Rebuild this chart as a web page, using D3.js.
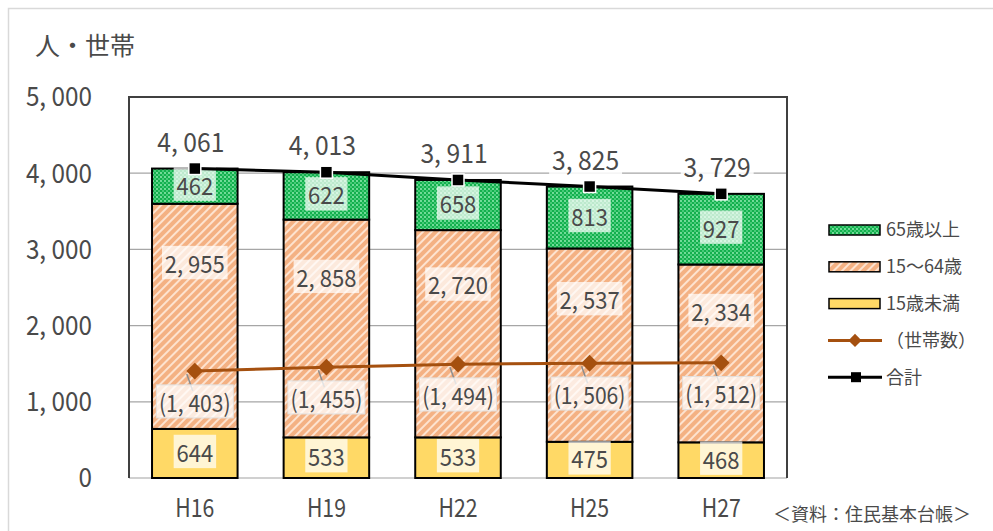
<!DOCTYPE html>
<html>
<head>
<meta charset="utf-8">
<script src="https://cdn.jsdelivr.net/npm/d3@7"></script>
<style>
body { margin: 0; background: #fff; }
text { font-family: "Noto Sans CJK JP", "Noto Sans", sans-serif; fill: #4a4a4a; }
</style>
</head>
<body>
<div id="chart"></div>
<script>
// data
var years = ['H16', 'H19', 'H22', 'H25', 'H27'];
var under15 = [644, 533, 533, 475, 468];
var age15to64 = [2955, 2858, 2720, 2537, 2334];
var over65 = [462, 622, 658, 813, 927];
var households = [1403, 1455, 1494, 1506, 1512];
var totals = [4061, 4013, 3911, 3825, 3729];
var yTicks = [0, 1000, 2000, 3000, 4000, 5000];
var seriesNames = ['15歳未満', '15～64歳', '65歳以上'];

var W = 993, H = 531;

var svg = d3.select('#chart').append('svg')
    .attr('width', W)
    .attr('height', H);

var defs = svg.append('defs');

// green dotted pattern
var pg = defs.append('pattern').attr('id', 'pGreen')
    .attr('width', 4).attr('height', 4)
    .attr('patternUnits', 'userSpaceOnUse');
pg.append('rect').attr('width', 4).attr('height', 4).attr('fill', '#13b04e');
pg.append('circle').attr('cx', 1).attr('cy', 1).attr('r', 0.9).attr('fill', '#9ef0bb');
pg.append('circle').attr('cx', 3).attr('cy', 3).attr('r', 0.9).attr('fill', '#5fd88c');

// orange striped pattern
var po = defs.append('pattern').attr('id', 'pOrange')
    .attr('width', 6).attr('height', 6)
    .attr('patternUnits', 'userSpaceOnUse')
    .attr('patternTransform', 'rotate(45)');
po.append('rect').attr('width', 6).attr('height', 6).attr('fill', '#f4b183');
po.append('rect').attr('width', 2).attr('height', 6).attr('fill', '#fde3d0');

var fills = ['#ffd966', 'url(#pOrange)', 'url(#pGreen)'];

// outer frame
svg.append('rect')
    .attr('x', 8.5).attr('y', 8.5)
    .attr('width', W).attr('height', H)
    .attr('fill', 'none')
    .attr('stroke', '#d9d9d9')
    .attr('stroke-width', 1.5);

var plot = { left: 129, right: 787, top: 97, bottom: 478 };

var y = d3.scaleLinear()
    .domain([0, 5000])
    .range([plot.bottom, plot.top]);

var x = d3.scaleBand()
    .domain(years)
    .range([plot.left, plot.right])
    .paddingInner(0.35)
    .paddingOuter(0.175);

var fmt = function (v) {
    return d3.format(',')(v).replace(/,/g, ', ');
};

// text helper, sx squeezes horizontally like the original narrow font
function label(parent, px, py, s, size, anchor, sx, bg) {
    var g = parent.append('g')
        .attr('transform', 'translate(' + px + ',' + py + ') scale(' + sx + ',1)');
    var t = g.append('text')
        .attr('text-anchor', anchor || 'middle')
        .attr('dy', '0.35em')
        .style('font-size', size + 'px')
        .text(s);
    if (bg) {
        var b = t.node().getBBox();
        g.insert('rect', 'text')
            .attr('x', b.x - 3).attr('y', b.y + 1)
            .attr('width', b.width + 6).attr('height', b.height - 2)
            .attr('fill', '#fff')
            .attr('fill-opacity', bg);
    }
    return g;
}

// gridlines
svg.append('g')
    .selectAll('line')
    .data(yTicks.slice(1, -1))
    .enter().append('line')
    .attr('x1', plot.left).attr('x2', plot.right)
    .attr('y1', function (d) { return y(d); })
    .attr('y2', function (d) { return y(d); })
    .attr('stroke', '#a6a6a6')
    .attr('stroke-width', 1.3);

// bottom axis line
svg.append('line')
    .attr('x1', plot.left).attr('x2', plot.right)
    .attr('y1', y(0)).attr('y2', y(0))
    .attr('stroke', '#d0d0d0')
    .attr('stroke-width', 2);

// plot frame (left, top, right)
svg.append('path')
    .attr('d', 'M' + plot.left + ',' + plot.bottom + 'V' + plot.top + 'H' + plot.right + 'V' + plot.bottom)
    .attr('fill', 'none')
    .attr('stroke', '#404040')
    .attr('stroke-width', 2);

// y tick labels
var yl = svg.append('g');
yTicks.forEach(function (d) {
    label(yl, 92, y(d), fmt(d), 27, 'end', 0.9);
});

// x labels
var xl = svg.append('g');
years.forEach(function (d) {
    label(xl, x(d) + x.bandwidth() / 2, 508, d, 25, 'middle', 0.85);
});

// stacked bars
var table = years.map(function (d, i) {
    return { year: d, a: under15[i], b: age15to64[i], c: over65[i] };
});
var stack = d3.stack().keys(['a', 'b', 'c'])(table);

var bars = svg.append('g');
stack.forEach(function (layer, li) {
    bars.selectAll('.s' + li)
        .data(layer)
        .enter().append('rect')
        .attr('x', function (d) { return x(d.data.year); })
        .attr('y', function (d) { return y(d[1]); })
        .attr('width', x.bandwidth())
        .attr('height', function (d) { return y(d[0]) - y(d[1]); })
        .attr('fill', fills[li])
        .attr('stroke', '#000')
        .attr('stroke-width', 2);
});

// segment labels
var sl = svg.append('g');
stack.forEach(function (layer, li) {
    layer.forEach(function (d) {
        var cx = x(d.data.year) + x.bandwidth() / 2;
        var top = y(d[1]), bot = y(d[0]);
        var cy = li === 1 ? top + (bot - top) * 0.27 : (top + bot) / 2;
        label(sl, cx, cy, fmt(d[1] - d[0]), 24, 'middle', 0.92, 0.72);
    });
});

// household line
var hl = svg.append('g');
var hLine = d3.line()
    .x(function (d, i) { return x(years[i]) + x.bandwidth() / 2; })
    .y(function (d) { return y(d); });
hl.append('path')
    .attr('d', hLine(households))
    .attr('fill', 'none')
    .attr('stroke', '#a5500f')
    .attr('stroke-width', 3);
households.forEach(function (d, i) {
    var cx = x(years[i]) + x.bandwidth() / 2;
    hl.append('path')
        .attr('d', d3.symbol().type(d3.symbolDiamond2).size(180)())
        .attr('transform', 'translate(' + cx + ',' + y(d) + ')')
        .attr('fill', '#a5500f');
});
households.forEach(function (d, i) {
    var cx = x(years[i]) + x.bandwidth() / 2;
    var ly = y(d) + 32;
    hl.append('line')
        .attr('x1', cx - 8).attr('y1', y(d) + 3)
        .attr('x2', cx - 2).attr('y2', ly - 12)
        .attr('stroke', '#8c8c8c').attr('stroke-width', 1.5);
    var g = label(hl, cx, ly, '(' + fmt(d) + ')', 24, 'middle', 0.88, 0.75);
    g.select('rect').attr('stroke', '#e0e0e0').attr('stroke-width', 1);
});

// total line
var tl = svg.append('g');
tl.append('path')
    .attr('d', hLine(totals))
    .attr('fill', 'none')
    .attr('stroke', '#000')
    .attr('stroke-width', 3);
totals.forEach(function (d, i) {
    var cx = x(years[i]) + x.bandwidth() / 2;
    tl.append('rect')
        .attr('x', cx - 6).attr('y', y(d) - 6)
        .attr('width', 12).attr('height', 12)
        .attr('fill', '#000')
        .attr('stroke', '#fff')
        .attr('stroke-width', 1.5);
});
totals.forEach(function (d, i) {
    var cx = x(years[i]) + x.bandwidth() / 2;
    label(tl, cx - 4, y(d) - 26, fmt(d), 26, 'middle', 0.95, 0.85);
});

// title
label(svg, 35, 46, '人・世帯', 25, 'start', 1);

// source
label(svg, 773, 515, '＜資料：住民基本台帳＞', 18, 'start', 1);

// legend
var lg = svg.append('g');
var legendRows = [
    { name: '65歳以上', type: 'box', fill: fills[2] },
    { name: '15～64歳', type: 'box', fill: fills[1] },
    { name: seriesNames[0], type: 'box', fill: fills[0] },
    { name: '（世帯数）', type: 'diamond' },
    { name: '合計', type: 'square' }
];
legendRows.forEach(function (r, i) {
    var ly = 230 + i * 36.8;
    if (r.type === 'box') {
        lg.append('rect')
            .attr('x', 829).attr('y', ly - 5)
            .attr('width', 51).attr('height', 10)
            .attr('fill', r.fill)
            .attr('stroke', '#000')
            .attr('stroke-width', 1.5);
    } else {
        var col = r.type === 'diamond' ? '#a5500f' : '#000';
        lg.append('line')
            .attr('x1', 828).attr('x2', 882)
            .attr('y1', ly).attr('y2', ly)
            .attr('stroke', col).attr('stroke-width', 3);
        if (r.type === 'diamond') {
            lg.append('path')
                .attr('d', d3.symbol().type(d3.symbolDiamond2).size(110)())
                .attr('transform', 'translate(855,' + ly + ')')
                .attr('fill', col);
        } else {
            lg.append('rect')
                .attr('x', 851).attr('y', ly - 5)
                .attr('width', 10).attr('height', 10)
                .attr('fill', col);
        }
    }
    label(lg, 886, ly, r.name, 18, 'start', 1);
});
</script>
</body>
</html>
